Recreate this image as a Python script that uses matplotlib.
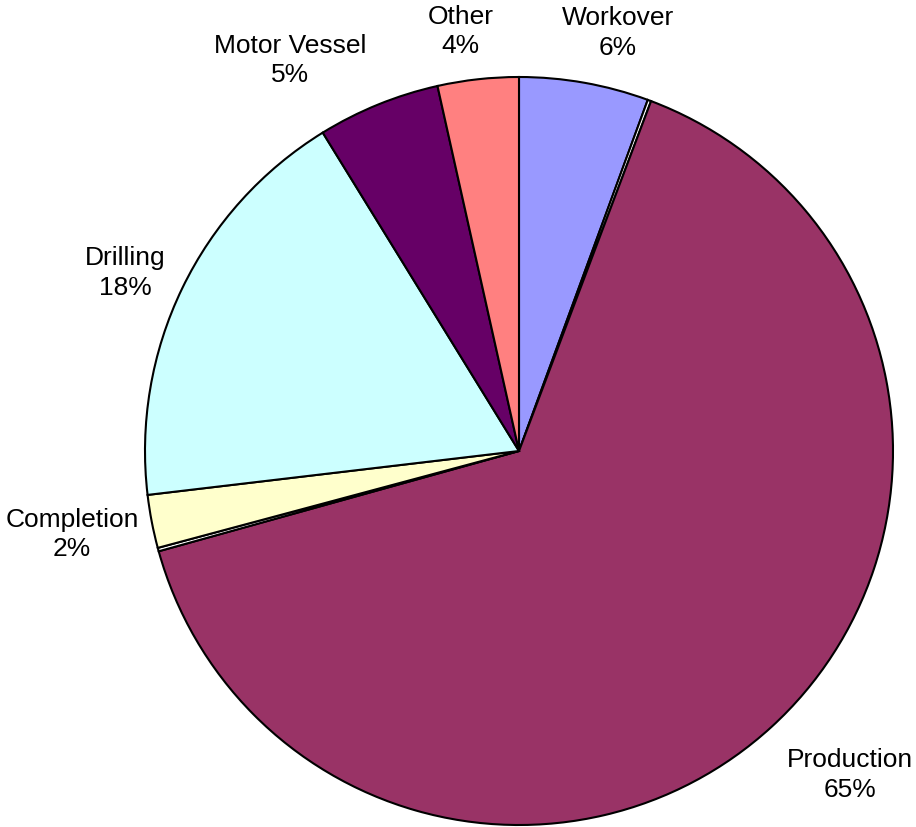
import matplotlib.pyplot as plt

plt.rcParams['font.family'] = ['Liberation Sans', 'DejaVu Sans']

# Slices, clockwise from 12 o'clock (two thin unlabeled slivers included)
categories = ['Workover', '', 'Production', '', 'Completion', 'Drilling', 'Motor Vessel', 'Other']
values = [5.6, 0.15, 65.0, 0.15, 2.3, 18.1, 5.3, 3.5]
pct_labels = ['6%', '', '65%', '', '2%', '18%', '5%', '4%']
colors = ['#9999FF', '#FFFFFF', '#993366', '#FFFFFF', '#FFFFCC', '#CCFFFF', '#660066', '#FF8080']

# label centres in data units (pie radius = 1)
label_xy = {
    'Workover': (0.265, 1.118),
    'Production': (0.885, -0.866),
    'Completion': (-1.195, -0.224),
    'Drilling': (-1.053, 0.476),
    'Motor Vessel': (-0.612, 1.045),
    'Other': (-0.157, 1.121),
}

fig = plt.figure(figsize=(9.16, 8.27), dpi=100)
ax = fig.add_axes([0, 0, 1, 1])

ax.pie(values, colors=colors, startangle=90, counterclock=False,
       wedgeprops=dict(edgecolor='black', linewidth=1.5))

for name, pct in zip(categories, pct_labels):
    if not name:
        continue
    x, y = label_xy[name]
    ax.text(x, y, f'{name}\n{pct}', ha='center', va='center',
            fontsize=19, linespacing=1.28, color='black')

ax.set_xlim(-519 / 374, (916 - 519) / 374)
ax.set_ylim(-(827 - 451) / 374, 451 / 374)
ax.set_aspect('equal')
ax.axis('off')

fig.savefig('out.png', dpi=100)
